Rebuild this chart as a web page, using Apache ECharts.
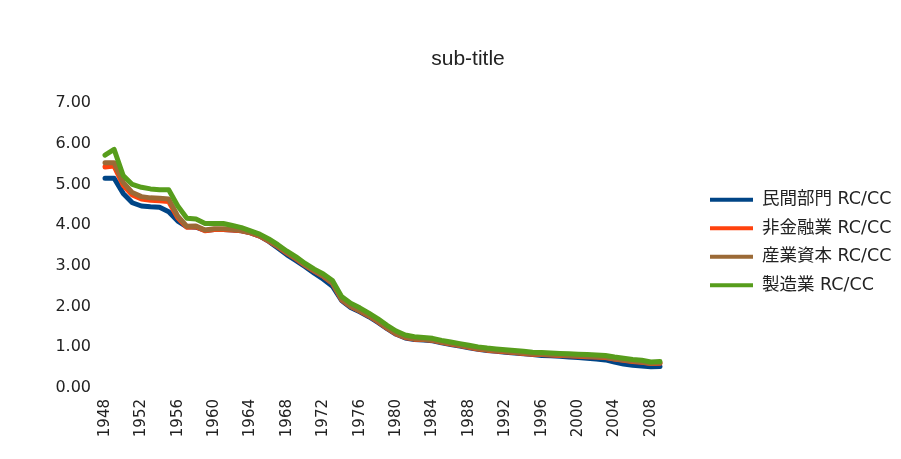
<!DOCTYPE html>
<html>
<head>
<meta charset="utf-8">
<script src="https://cdn.jsdelivr.net/npm/echarts@6/dist/echarts.min.js"></script>
<style>
  html, body { margin: 0; padding: 0; background: #fff; }
  #chart { width: 901px; height: 459px; }
</style>
</head>
<body>
<div id="chart"></div>
<script>
// years 1948 - 2009
var years = [
  '1948','1949','1950','1951','1952','1953','1954','1955','1956','1957',
  '1958','1959','1960','1961','1962','1963','1964','1965','1966','1967',
  '1968','1969','1970','1971','1972','1973','1974','1975','1976','1977',
  '1978','1979','1980','1981','1982','1983','1984','1985','1986','1987',
  '1988','1989','1990','1991','1992','1993','1994','1995','1996','1997',
  '1998','1999','2000','2001','2002','2003','2004','2005','2006','2007',
  '2008','2009'
];

var seriesNames = ['民間部門 RC/CC', '非金融業 RC/CC', '産業資本 RC/CC', '製造業 RC/CC'];
var seriesColors = ['#004586', '#ff420e', '#9b6a36', '#579d1c'];

// 民間部門
var privateSector = [
  5.15, 5.15, 4.78, 4.55, 4.47, 4.45, 4.44, 4.33, 4.10, 3.96,
  3.95, 3.87, 3.89, 3.89, 3.88, 3.86, 3.81, 3.73, 3.60, 3.44,
  3.27, 3.13, 2.98, 2.82, 2.67, 2.50, 2.15, 1.98, 1.87, 1.75,
  1.61, 1.46, 1.32, 1.23, 1.19, 1.18, 1.16, 1.11, 1.07, 1.03,
  0.99, 0.95, 0.92, 0.90, 0.88, 0.86, 0.84, 0.82, 0.80, 0.79,
  0.78, 0.76, 0.75, 0.73, 0.71, 0.69, 0.64, 0.59, 0.56, 0.54,
  0.52, 0.53
];
// 非金融業
var nonFinancial = [
  5.43, 5.45, 4.98, 4.74, 4.64, 4.61, 4.60, 4.58, 4.18, 3.95,
  3.96, 3.86, 3.89, 3.89, 3.88, 3.86, 3.81, 3.73, 3.61, 3.47,
  3.31, 3.17, 3.01, 2.87, 2.74, 2.57, 2.17, 2.00, 1.89, 1.77,
  1.63, 1.47, 1.33, 1.24, 1.20, 1.19, 1.17, 1.12, 1.08, 1.04,
  1.00, 0.96, 0.93, 0.91, 0.89, 0.87, 0.85, 0.83, 0.82, 0.81,
  0.80, 0.79, 0.78, 0.77, 0.76, 0.75, 0.71, 0.68, 0.65, 0.63,
  0.60, 0.61
];
// 産業資本
var industrialCapital = [
  5.53, 5.53, 5.05, 4.80, 4.70, 4.67, 4.66, 4.64, 4.22, 3.97,
  3.98, 3.88, 3.91, 3.91, 3.90, 3.87, 3.82, 3.74, 3.62, 3.48,
  3.32, 3.18, 3.02, 2.88, 2.75, 2.58, 2.18, 2.01, 1.90, 1.78,
  1.64, 1.48, 1.34, 1.25, 1.21, 1.20, 1.18, 1.13, 1.09, 1.05,
  1.01, 0.97, 0.94, 0.92, 0.90, 0.88, 0.86, 0.84, 0.83, 0.82,
  0.81, 0.80, 0.79, 0.78, 0.77, 0.76, 0.72, 0.69, 0.66, 0.64,
  0.61, 0.62
];
// 製造業
var manufacturing = [
  5.72, 5.86, 5.22, 5.00, 4.93, 4.89, 4.87, 4.87, 4.47, 4.17,
  4.15, 4.04, 4.04, 4.04, 3.99, 3.94, 3.86, 3.78, 3.66, 3.52,
  3.36, 3.22, 3.06, 2.92, 2.80, 2.64, 2.25, 2.08, 1.97, 1.84,
  1.70, 1.54, 1.40, 1.30, 1.26, 1.24, 1.22, 1.17, 1.13, 1.09,
  1.05, 1.01, 0.98, 0.96, 0.94, 0.92, 0.90, 0.88, 0.87, 0.86,
  0.85, 0.84, 0.83, 0.82, 0.81, 0.80, 0.76, 0.73, 0.70, 0.68,
  0.64, 0.65
];

var allData = [privateSector, nonFinancial, industrialCapital, manufacturing];

var chart = echarts.init(document.getElementById('chart'), null, { renderer: 'canvas' });

var series = [];
for (var i = 0; i < seriesNames.length; i++) {
  series.push({
    name: seriesNames[i],
    type: 'line',
    data: allData[i],
    symbol: 'none',
    lineStyle: { width: 5, color: seriesColors[i], join: 'round', cap: 'round' },
    itemStyle: { color: seriesColors[i] }
  });
}

var option = {
  animation: false,
  backgroundColor: '#fff',
  title: {
    text: 'sub-title',
    left: 463,
    textAlign: 'center',
    top: 44,
    textStyle: { fontFamily: 'Liberation Sans', fontSize: 21, fontWeight: 'normal', color: '#222' }
  },
  legend: {
    orient: 'vertical',
    left: 705,
    top: 186,
    itemWidth: 43,
    itemHeight: 4,
    itemGap: 11,
    icon: 'rect',
    textStyle: {
      fontFamily: 'DejaVu Sans, Noto Sans CJK JP',
      fontSize: 17.5,
      color: '#222',
      padding: [0, 0, 0, 4]
    },
    data: seriesNames
  },
  grid: { left: 105, right: 241, top: 103, bottom: 71 },
  xAxis: {
    type: 'category',
    data: years,
    boundaryGap: false,
    axisLine: { show: false },
    axisTick: { show: false },
    axisLabel: {
      interval: 3,
      rotate: 90,
      margin: 11,
      fontFamily: 'DejaVu Sans',
      fontSize: 15,
      color: '#222'
    }
  },
  yAxis: {
    type: 'value',
    min: 0,
    max: 7,
    interval: 1,
    axisLine: { show: false },
    axisTick: { show: false },
    splitLine: { show: false },
    axisLabel: {
      margin: 14,
      fontFamily: 'DejaVu Sans',
      fontSize: 16,
      color: '#222',
      formatter: function (v) { return v.toFixed(2); }
    }
  },
  series: series
};

chart.setOption(option);
</script>
</body>
</html>
